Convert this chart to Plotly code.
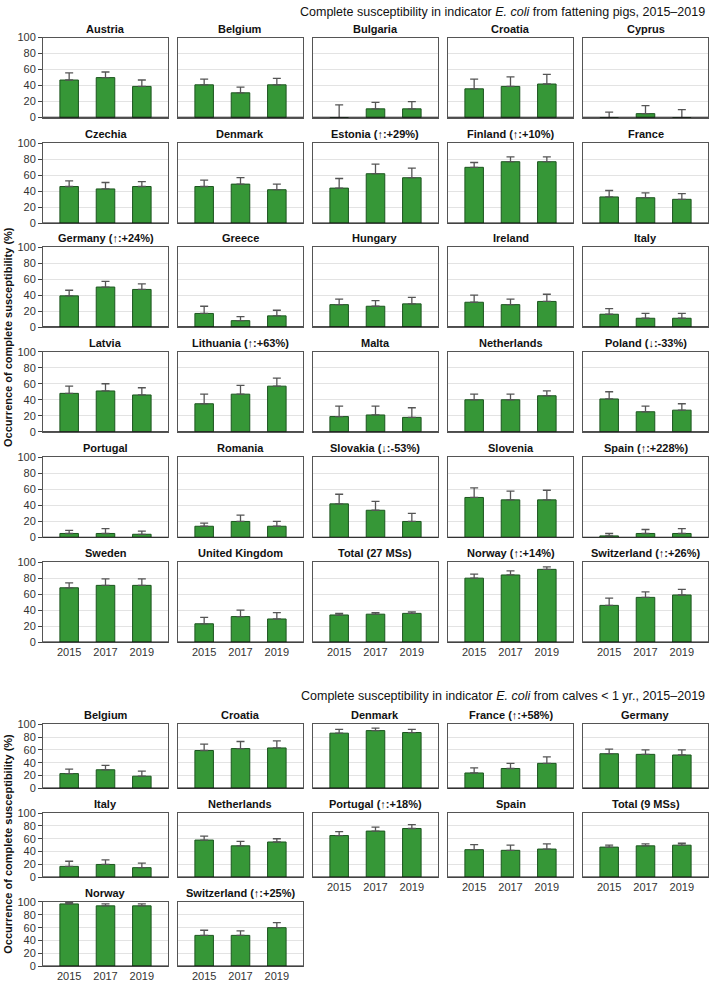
import plotly.graph_objects as go

W, H = 709, 989

years = ["2015", "2017", "2019"]

# ---- Fattening pigs ----
pig_countries = [
    "Austria", "Belgium", "Bulgaria", "Croatia", "Cyprus",
    "Czechia", "Denmark", "Estonia (↑:+29%)", "Finland (↑:+10%)", "France",
    "Germany (↑:+24%)", "Greece", "Hungary", "Ireland", "Italy",
    "Latvia", "Lithuania (↑:+63%)", "Malta", "Netherlands", "Poland (↓:-33%)",
    "Portugal", "Romania", "Slovakia (↓:-53%)", "Slovenia", "Spain (↑:+228%)",
    "Sweden", "United Kingdom", "Total (27 MSs)", "Norway (↑:+14%)", "Switzerland (↑:+26%)",
]
pig_values = [
    [47, 50, 39], [41, 31, 41], [0, 11, 11], [36, 39, 42], [0, 5, 0],
    [46, 43, 46], [46, 49, 42], [44, 62, 57], [70, 77, 77], [33, 32, 30],
    [39, 50, 47], [17, 8, 14], [28, 26, 29], [31, 28, 32], [16, 11, 11],
    [48, 51, 46], [35, 47, 57], [19, 21, 18], [40, 40, 45], [41, 25, 27],
    [5, 5, 4], [14, 20, 14], [42, 34, 20], [50, 47, 47], [2, 5, 5],
    [68, 71, 71], [23, 32, 29], [34, 35, 36], [80, 84, 91], [46, 56, 59],
]
pig_upper = [
    [56, 57, 47], [48, 38, 49], [16, 19, 20], [48, 51, 54], [7, 15, 10],
    [53, 51, 52], [54, 57, 49], [56, 74, 69], [76, 83, 83], [41, 38, 37],
    [46, 57, 54], [26, 13, 21], [35, 33, 37], [40, 35, 41], [23, 17, 17],
    [57, 60, 55], [47, 58, 67], [32, 32, 30], [47, 47, 51], [50, 32, 35],
    [9, 11, 8], [18, 28, 20], [54, 45, 30], [62, 58, 59], [5, 10, 11],
    [74, 79, 79], [31, 40, 37], [36, 37, 38], [85, 89, 94], [55, 63, 66],
]

# ---- Calves < 1 yr ----
calf_countries = [
    "Belgium", "Croatia", "Denmark", "France (↑:+58%)", "Germany",
    "Italy", "Netherlands", "Portugal (↑:+18%)", "Spain", "Total (9 MSs)",
    "Norway", "Switzerland (↑:+25%)",
]
calf_values = [
    [23, 29, 19], [59, 62, 63], [86, 90, 87], [24, 31, 39], [54, 53, 52],
    [17, 20, 15], [58, 49, 55], [65, 72, 76], [43, 42, 44], [47, 49, 50],
    [97, 94, 94], [48, 48, 60],
]
calf_upper = [
    [30, 36, 27], [69, 73, 74], [92, 94, 92], [32, 39, 49], [61, 60, 60],
    [25, 27, 22], [64, 56, 60], [71, 78, 82], [51, 50, 52], [50, 52, 53],
    [99, 97, 97], [56, 55, 68],
]

title_pigs = "Complete susceptibility in indicator <i>E. coli</i> from fattening pigs, 2015–2019"
title_calves = "Complete susceptibility in indicator <i>E. coli</i> from calves < 1 yr., 2015–2019"
y_title = "<b>Occurrence of complete susceptibility (%)</b>"

# ---- geometry (pixels) ----
col_x0 = [43, 178, 313, 448, 583]
panel_w = 125
top_row_y0 = [32, 139, 244, 350, 457, 563]
top_h = 81
bot_row_y0 = [727, 817, 907]
bot_h = 65

FONT = "Liberation Sans, Arial, sans-serif"
BAR_COLOR = "#369737"
BAR_LINE = "#1c551f"

panels = []
for i, name in enumerate(pig_countries):
    r, c = divmod(i, 5)
    showx = (r == 5)
    panels.append((name, pig_values[i], pig_upper[i], col_x0[c], top_row_y0[r], top_h, c == 0, showx))
for i, name in enumerate(calf_countries):
    r, c = divmod(i, 5)
    showx = (r == 2) or (r == 1 and c >= 2)
    panels.append((name, calf_values[i], calf_upper[i], col_x0[c], bot_row_y0[r], bot_h, c == 0, showx))

fig = go.Figure()
layout = {}
annotations = []
shapes = []
for k, (name, vals, ups, x0, y0, h, showy, showx) in enumerate(panels):
    sfx = "" if k == 0 else str(k + 1)
    fig.add_trace(go.Bar(
        x=years, y=vals, xaxis="x" + sfx, yaxis="y" + sfx,
        width=0.51,
        marker=dict(color=BAR_COLOR, line=dict(color=BAR_LINE, width=1)),
        error_y=dict(type="data", symmetric=False,
                     array=[u - v for u, v in zip(ups, vals)],
                     arrayminus=[0, 0, 0],
                     color="#555555", thickness=1.3, width=4),
        showlegend=False, hoverinfo="skip",
    ))
    layout["xaxis" + sfx] = dict(
        domain=[x0 / W, (x0 + panel_w) / W], anchor="y" + sfx,
        type="category", range=[-0.72, 2.72],
        showline=True, mirror=True, linecolor="#555555", linewidth=1,
        showgrid=False, zeroline=False, ticks="",
        showticklabels=showx, tickfont=dict(family=FONT, size=11, color="#333333"),
        fixedrange=True,
    )
    layout["yaxis" + sfx] = dict(
        domain=[1 - (y0 + h) / H, 1 - y0 / H], anchor="x" + sfx,
        range=[0, 100], tickvals=[0, 20, 40, 60, 80, 100],
        showgrid=True, gridcolor="#e3e3e3", gridwidth=1, zeroline=False,
        showline=True, mirror=True, linecolor="#555555", linewidth=1,
        ticks="outside" if showy else "", ticklen=4, tickcolor="#444444",
        showticklabels=showy, tickfont=dict(family=FONT, size=11, color="#333333"),
        fixedrange=True,
    )
    shapes.append(dict(type="line", xref="x" + sfx + " domain", yref="y" + sfx,
                       x0=0, x1=1, y0=0, y1=0, line=dict(color="#111111", width=1.6)))
    annotations.append(dict(
        text="<b>" + name + "</b>", xref="paper", yref="paper",
        x=(x0 + panel_w / 2) / W, y=1 - y0 / H, xanchor="center", yanchor="bottom",
        yshift=1, showarrow=False, font=dict(family=FONT, size=11, color="#111111"),
    ))

annotations.append(dict(text=title_pigs, xref="paper", yref="paper", x=707 / W, y=1 - 6 / H,
                        xanchor="right", yanchor="middle", showarrow=False,
                        font=dict(family=FONT, size=12.5, color="#111111")))
annotations.append(dict(text=title_calves, xref="paper", yref="paper", x=707 / W, y=1 - 698 / H,
                        xanchor="right", yanchor="middle", showarrow=False,
                        font=dict(family=FONT, size=12.5, color="#111111")))
annotations.append(dict(text=y_title, xref="paper", yref="paper", x=8 / W, y=1 - 335 / H,
                        xanchor="center", yanchor="middle", textangle=-90, showarrow=False,
                        font=dict(family=FONT, size=11, color="#111111")))
annotations.append(dict(text=y_title, xref="paper", yref="paper", x=8 / W, y=1 - 848 / H,
                        xanchor="center", yanchor="middle", textangle=-90, showarrow=False,
                        font=dict(family=FONT, size=11, color="#111111")))

fig.update_layout(
    width=W, height=H, margin=dict(l=0, r=0, t=0, b=0),
    paper_bgcolor="white", plot_bgcolor="white",
    annotations=annotations, shapes=shapes, bargap=0.4,
    font=dict(family=FONT),
    **layout,
)
fig.write_html(
    "out.html",
    config={"displayModeBar": False},
    post_script=(
        "document.documentElement.style.margin='0';"
        "document.documentElement.style.overflow='hidden';"
        "document.body.style.margin='0';"
        "document.body.style.padding='0';"
        "document.body.style.overflow='hidden';"
    ),
)
